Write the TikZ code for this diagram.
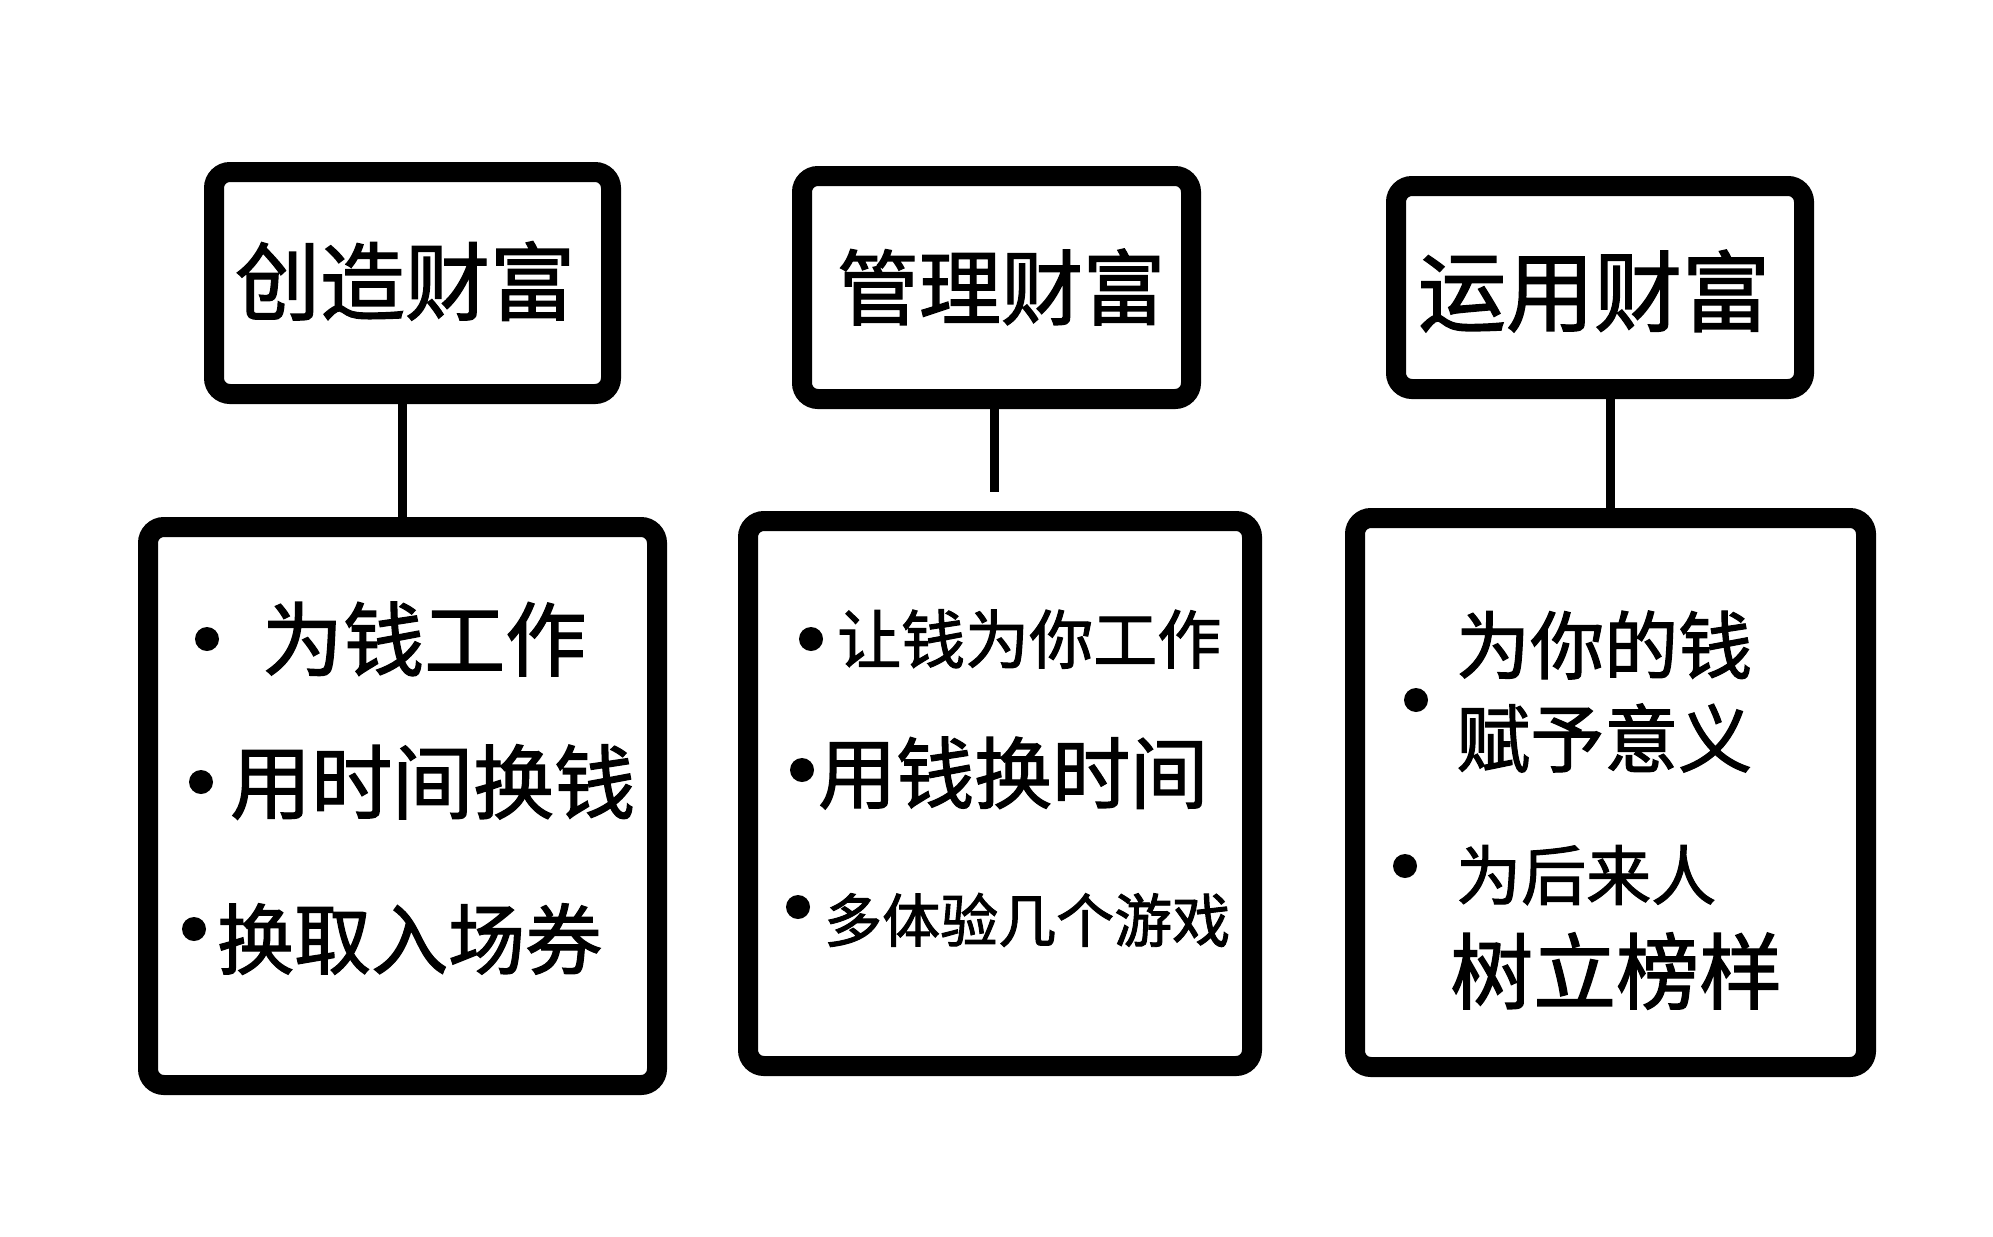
\documentclass[tikz,border=0pt]{standalone}
\usepackage{fontspec}
\newfontfamily\cjk{Noto Sans CJK SC}[FakeBold=1.6]
\newcommand\hwsize[1]{\fontsize{#1pt}{#1pt}\selectfont}
\begin{document}
\begin{tikzpicture}[x=1pt,y=-1pt,
  box/.style={draw=black,line width=20pt,rounded corners=16pt,fill=white,inner sep=0pt},
  link/.style={draw=black,line width=9pt},
  dot/.style={circle,fill=black,inner sep=0pt,minimum size=24pt},
  txt/.style={inner sep=0pt,anchor=west,font=\cjk},
  ttl/.style={inner sep=0pt,anchor=center,font=\cjk}]
\useasboundingbox (0,0) rectangle (1993,1236);
\fill[white] (0,0) rectangle (1993,1236);
% top boxes
\node[box,minimum width=397pt,minimum height=222pt] (t1) at (412.5,283) {};
\node[box,minimum width=389pt,minimum height=223pt] (t2) at (996.5,287.5) {};
\node[box,minimum width=408pt,minimum height=203pt] (t3) at (1600,287.5) {};
% bottom boxes
\node[box,minimum width=509pt,minimum height=558pt] (b1) at (402.5,806) {};
\node[box,minimum width=504pt,minimum height=545pt] (b2) at (1000,793.5) {};
\node[box,minimum width=511pt,minimum height=549pt] (b3) at (1610.5,792.5) {};
% connectors
\coordinate (c2) at (994,492);
\draw[link] (t1.south -| b1.north) -- (b1.north);
\draw[link] (t2.south -| c2) -- (c2);
\draw[link] (t3.south -| b3.north) -- (b3.north);
% titles
\node[ttl] (h1) at (405,281) {\hwsize{85}创造财富};
\node[ttl] (h2) at (1001,287) {\hwsize{82}管理财富};
\node[ttl] (h3) at (1594,291) {\hwsize{88}运用财富};
% box 1
\node[dot] (d11) at (207,639) {};
\node[dot] (d12) at (201,782) {};
\node[dot] (d13) at (194,929) {};
\node[txt] (l11) at (262,639) {\hwsize{81}为钱工作};
\node[txt] (l12) at (230,782) {\hwsize{81}用时间换钱};
\node[txt] (l13) at (217,939) {\hwsize{77}换取入场券};
% box 2
\node[dot] (d21) at (811,639) {};
\node[dot] (d22) at (802,770) {};
\node[dot] (d23) at (798,907) {};
\node[txt] (l21) at (837,639) {\hwsize{64}让钱为你工作};
\node[txt] (l22) at (818,773) {\hwsize{78}用钱换时间};
\node[txt] (l23) at (824,920) {\hwsize{58}多体验几个游戏};
% box 3
\node[dot] (d31) at (1416,700) {};
\node[dot] (d32) at (1405,866) {};
\node[txt] (l31) at (1456,645) {\hwsize{74}为你的钱};
\node[txt] (l32) at (1456,738) {\hwsize{74}赋予意义};
\node[txt] (l33) at (1456,875) {\hwsize{65}为后来人};
\node[txt] (l34) at (1450,971) {\hwsize{83}树立榜样};
\end{tikzpicture}
\end{document}
